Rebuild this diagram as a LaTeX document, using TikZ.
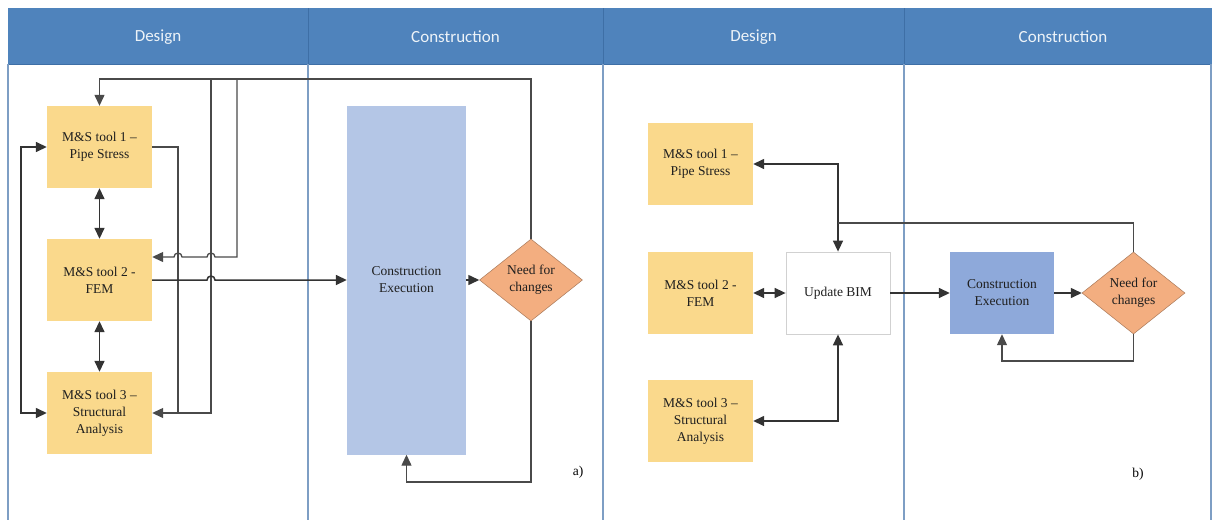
\documentclass[tikz,border=0pt]{standalone}
\usepackage{fontspec}
\setmainfont{Liberation Serif}
\newfontfamily\hdrfont{Carlito}
\usetikzlibrary{arrows.meta,shapes.geometric}

\definecolor{hdrblue}{HTML}{4F83BC}
\definecolor{hdredge}{HTML}{3E6FA6}
\definecolor{laneline}{HTML}{7E9EC4}
\definecolor{toolfill}{HTML}{FAD98C}
\definecolor{cefill}{HTML}{B4C6E6}
\definecolor{cebfill}{HTML}{8EA9DA}
\definecolor{dfill}{HTML}{F3AE80}
\definecolor{wire}{HTML}{333333}
\definecolor{softwire}{HTML}{4A4A4A}

\tikzset{
  boxtext/.style={align=center, font=\fontsize{13.5}{17}\selectfont, text=black!88},
  toolbox/.style={rectangle, fill=toolfill, minimum width=105pt, minimum height=82pt,
    inner sep=2pt, boxtext},
  cebox/.style={rectangle, fill=cefill, minimum width=119pt, minimum height=349pt,
    inner sep=2pt, boxtext},
  cebbox/.style={rectangle, fill=cebfill, minimum width=104pt, minimum height=82pt,
    inner sep=2pt, boxtext},
  bimbox/.style={rectangle, fill=white, draw=black!18, line width=0.8pt,
    minimum width=104pt, minimum height=82pt, inner sep=2pt, boxtext},
  decision/.style={diamond, fill=dfill, draw=dfill!70!black, line width=0.5pt,
    minimum width=103pt, minimum height=82pt, inner sep=0pt, shape aspect=1.25,
    boxtext},
  lanehead/.style={font=\hdrfont\fontsize{17}{19}\selectfont, text=white!90!hdrblue},
  wireline/.style={draw=wire, line width=1.5pt},
  thinwire/.style={draw=softwire, line width=1.3pt},
  tip/.style={-{Triangle[length=11pt,width=10pt]}},
  arr/.style={wireline, tip},
  darr/.style={wireline, {Triangle[length=11pt,width=10pt]}-{Triangle[length=11pt,width=10pt]}},
  tag/.style={font=\fontsize{13.5}{15}\selectfont}
}

\begin{document}
\begin{tikzpicture}[x=1pt,y=-1pt]
  \useasboundingbox (0,0) rectangle (1216,520);
  \fill[white] (0,0) rectangle (1216,520);

  % swimlane frame and headers
  \fill[hdrblue] (8,8) rectangle (1212,64);
  \draw[hdredge, line width=0.8pt] (8,64) -- (1212,64);
  \foreach \xx in {308,603,904} \draw[hdredge, line width=0.8pt] (\xx,8) -- (\xx,64);
  \foreach \xx in {8,308,603,904,1211} \draw[laneline, line width=1.6pt] (\xx,64) -- (\xx,520);
  \node[lanehead] (h1) at (158,37) {Design};
  \node[lanehead] (h2) at (455.5,37) {Construction};
  \node[lanehead] (h3) at (753.5,37) {Design};
  \node[lanehead] (h4) at (1063,37) {Construction};

  % ---- a) tools feeding a single construction block ----
  \node[toolbox] (t1a) at (99.5,147) {M\&S tool 1 --\\Pipe Stress};
  \node[toolbox] (t2a) at (99.5,280) {M\&S tool 2 -\\FEM};
  \node[toolbox] (t3a) at (99.5,413) {M\&S tool 3 --\\Structural\\Analysis};
  \node[cebox] (cea) at (406.5,280) {Construction\\Execution};
  \node[decision] (dia) at (531,280) {Need for\\changes};
  \node[tag] (la) at (578,472) {a)};

  \coordinate (topa) at (531,79);
  \coordinate (ja) at (237,79);
  \coordinate (jb) at (211,79);
  \coordinate (loopa) at (531,482);

  \draw[darr] (t1a.south) -- (t2a.north);
  \draw[darr] (t2a.south) -- (t3a.north);
  \draw[darr] (t1a.west) -- (21,147) -- (21,413) -- (t3a.west);
  \draw[thinwire] (t1a.east) -- (178,147) -- (178,413);
  \draw[thinwire, tip] (jb) -- (211,413) -- (t3a.east);
  \draw[thinwire, tip] (ja) -- (237,257) -- (215,257)
      arc[start angle=0,end angle=180,radius=4pt] -- (182,257)
      arc[start angle=0,end angle=180,radius=4pt] -- ([yshift=23pt]t2a.east);
  \draw[arr] (t2a.east) -- (207,280)
      arc[start angle=180,end angle=0,radius=4pt] -- (cea.west);
  \draw[arr] (cea.east) -- (dia.west);
  \draw[thinwire, tip] (dia.north) -- (topa) -| (t1a.north);
  \draw[thinwire, tip] (dia.south) -- (loopa) -| (cea.south);

  % ---- b) tools exchanging data through the BIM ----
  \node[toolbox] (t1b) at (700.5,164) {M\&S tool 1 --\\Pipe Stress};
  \node[toolbox] (t2b) at (700.5,293) {M\&S tool 2 -\\FEM};
  \node[toolbox] (t3b) at (700.5,421) {M\&S tool 3 --\\Structural\\Analysis};
  \node[bimbox] (bim) at (838,293) {Update BIM};
  \node[cebbox] (ceb) at (1002,293) {Construction\\Execution};
  \node[decision] (dib) at (1133.5,293) {Need for\\changes};
  \node[tag] (lb) at (1138,474) {b)};

  \coordinate (topb) at (838,223);
  \coordinate (loopb) at (1133.5,361);

  \draw[darr] (t2b.east) -- (bim.west);
  \draw[darr] (t1b.east) -| (bim.north);
  \draw[darr] (t3b.east) -| (bim.south);
  \draw[thinwire] (dib.north) |- (topb);
  \draw[arr] (bim.east) -- (ceb.west);
  \draw[arr] (ceb.east) -- (dib.west);
  \draw[thinwire, tip] (dib.south) -- (loopb) -| (ceb.south);
\end{tikzpicture}
\end{document}
